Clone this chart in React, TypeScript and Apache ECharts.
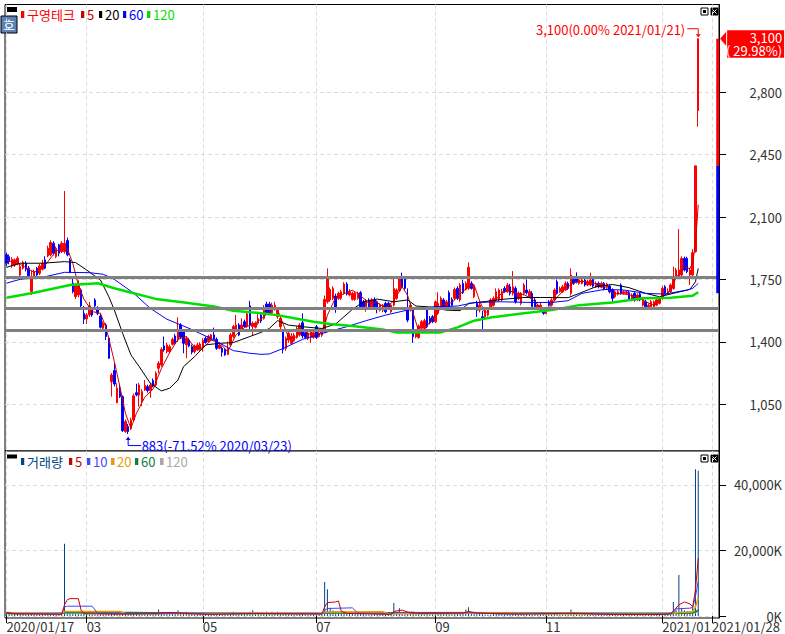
import React, { useEffect, useRef } from "react";
import * as echarts from "echarts";

const stockName = "구영테크";
const volumeName = "거래량";

const days: [string, number[]][] = [
  ["2020/01", [17,20,21,22,23,28,29,30,31]],
  ["2020/02", [3,4,5,6,7,10,11,12,13,14,17,18,19,20,21,24,25,26,27,28]],
  ["2020/03", [2,3,4,5,6,9,10,11,12,13,16,17,18,19,20,23,24,25,26,27,30,31]],
  ["2020/04", [1,2,3,6,7,8,9,10,13,14,16,17,20,21,22,23,24,27,28,29]],
  ["2020/05", [4,6,7,8,11,12,13,14,15,18,19,20,21,22,25,26,27,28,29]],
  ["2020/06", [1,2,3,4,5,8,9,10,11,12,15,16,17,18,19,22,23,24,25,26,29,30]],
  ["2020/07", [1,2,3,6,7,8,9,10,13,14,15,16,17,20,21,22,23,24,27,28,29,30,31]],
  ["2020/08", [3,4,5,6,7,10,11,12,13,14,18,19,20,21,24,25,26,27,28,31]],
  ["2020/09", [1,2,3,4,7,8,9,10,11,14,15,16,17,18,21,22,23,24,25,28,29]],
  ["2020/10", [5,6,7,8,12,13,14,15,16,19,20,21,22,23,26,27,28,29,30]],
  ["2020/11", [2,3,4,5,6,9,10,11,12,13,16,17,18,19,20,23,24,25,26,27,30]],
  ["2020/12", [1,2,3,4,7,8,9,10,11,14,15,16,17,18,21,22,23,24,28,29,30]],
  ["2021/01", [4,5,6,7,8,11,12,13,14,15,18,19,20,21,22,25,26,27,28,29]],
  ["2021/02", [1]],
];
const categories = days.flatMap(([m, ds]) => ds.map((d) => `${m}/${String(d).padStart(2, "0")}`));

const dateLabels: Record<string, string> = {
  "2020/01/17": "2020/01/17",
  "2020/03/02": "03",
  "2020/05/04": "05",
  "2020/07/01": "07",
  "2020/09/01": "09",
  "2020/11/02": "11",
  "2021/01/04": "2021/01",
  "2021/01/28": "2021/01/28",
};

const priceTicks = [1050, 1400, 1750, 2100, 2450, 2800];
const volumeTicks = [0, 20000, 40000];
const levelLines = [1762, 1588, 1465];

// [open, close, low, high]
const candlesJanMar = [
  [1888,1841,1825,1900],[1878,1850,1835,1890],[1826,1863,1815,1875],[1830,1860,1820,1868],[1841,1869,1830,1880],
  [1775,1822,1765,1840],[1813,1845,1805,1855],[1841,1807,1795,1852],[1813,1770,1760,1825],[1682,1757,1663,1800],
  [1770,1794,1765,1805],[1813,1775,1770,1820],[1785,1826,1775,1838],[1807,1841,1800,1860],[1860,1813,1808,1880],
  [1882,1925,1875,1940],[1888,1957,1880,1970],[1953,1897,1885,1965],[1878,1925,1870,1935],[1944,1897,1880,1950],
  [1906,1953,1898,1965],[1906,1953,1895,2246],[1968,1888,1880,1985],[1860,1790,1785,1870],[1729,1682,1672,1760],
  [1654,1719,1640,1730],[1663,1720,1650,1745],[1691,1602,1595,1700],[1560,1527,1500,1602],[1529,1551,1500,1560],
  [1551,1602,1540,1625],[1583,1551,1540,1595],[1635,1602,1590,1645],[1579,1560,1550,1600],[1545,1482,1475,1560],
  [1476,1504,1465,1515],[1495,1430,1410,1505],[1420,1308,1305,1430],[1177,1214,1093,1225],[1239,1164,1150,1280],
  [1059,1140,1055,1168],[1140,1093,1085,1160],[1093,902,895,1100],[897,953,890,965],[925,897,883,940],
  [915,962,905,975],[962,1097,955,1110],[1115,1102,1095,1165],[1102,1158,1037,1170],[1065,1121,1040,1135],
];
const candlesAprJun = [
  [1130,1155,1125,1186],[1149,1127,1115,1160],[1127,1158,1087,1170],[1183,1153,1145,1195],[1158,1224,1150,1235],
  [1252,1280,1224,1292],[1270,1358,1260,1370],[1377,1355,1345,1430],[1345,1383,1335,1395],[1345,1373,1335,1385],
  [1386,1414,1380,1425],[1433,1392,1385,1445],[1411,1457,1400,1538],[1495,1426,1415,1505],[1457,1392,1336,1465],
  [1383,1420,1308,1432],[1411,1377,1370,1420],[1373,1342,1330,1385],[1345,1377,1335,1385],[1355,1383,1350,1395],
  [1358,1388,1350,1398],[1370,1407,1345,1420],[1420,1396,1390,1430],[1401,1430,1395,1440],[1411,1439,1405,1445],
  [1439,1415,1410,1480],[1415,1364,1355,1425],[1364,1383,1358,1395],[1364,1342,1317,1375],[1355,1327,1322,1365],
  [1330,1364,1325,1401],[1383,1439,1375,1450],[1430,1486,1420,1495],[1467,1495,1460,1551],[1495,1439,1432,1505],
  [1471,1495,1465,1532],[1513,1486,1480,1525],[1489,1557,1480,1570],[1602,1495,1470,1630],[1486,1504,1433,1515],
  [1482,1504,1475,1515],[1504,1532,1495,1560],
];
const candlesJunAug = [
  [1550,1517,1505,1565],[1532,1578,1525,1606],[1612,1563,1555,1625],[1612,1563,1550,1625],[1563,1606,1555,1620],
  [1582,1606,1575,1625],[1541,1578,1530,1590],[1485,1532,1466,1541],[1457,1358,1335,1466],[1363,1419,1350,1430],
  [1410,1448,1395,1460],[1391,1432,1385,1448],[1406,1438,1400,1450],[1425,1475,1418,1488],[1438,1494,1430,1505],
  [1507,1433,1420,1560],[1451,1425,1415,1460],[1419,1448,1410,1458],[1425,1457,1395,1465],[1425,1451,1418,1462],
  [1485,1425,1415,1495],[1429,1448,1425,1458],[1437,1457,1428,1470],[1457,1638,1450,1660],[1625,1756,1615,1812],
  [1635,1694,1625,1705],[1644,1700,1635,1712],[1657,1593,1563,1670],[1644,1672,1635,1682],[1644,1681,1635,1692],
  [1672,1724,1665,1735],[1724,1668,1660,1735],[1663,1681,1655,1695],[1638,1672,1632,1682],[1638,1672,1630,1680],
  [1644,1672,1636,1682],[1676,1597,1590,1685],[1625,1597,1585,1635],[1597,1631,1569,1640],[1635,1597,1588,1645],
  [1588,1635,1580,1645],[1635,1597,1590,1650],[1625,1593,1560,1632],[1578,1606,1570,1615],[1578,1606,1566,1612],
  [1616,1569,1560,1625],[1616,1588,1580,1625],[1569,1606,1562,1615],[1606,1700,1598,1756],[1644,1691,1636,1700],
  [1687,1756,1680,1762],[1756,1709,1700,1788],[1756,1700,1692,1765],
];
const candlesAugOct = [
  [1588,1522,1510,1700],[1578,1606,1570,1618],[1578,1429,1395,1590],[1429,1448,1420,1458],[1425,1489,1418,1498],
  [1476,1513,1465,1522],[1476,1519,1468,1530],[1578,1485,1478,1590],[1532,1507,1498,1545],[1541,1513,1505,1550],
  [1513,1625,1505,1631],[1560,1616,1550,1678],[1597,1644,1590,1655],[1635,1597,1588,1645],[1597,1625,1590,1635],
  [1676,1593,1580,1688],[1638,1606,1598,1650],[1644,1694,1635,1705],[1700,1644,1635,1712],[1635,1719,1625,1730],
  [1728,1676,1668,1748],[1694,1728,1688,1740],[1700,1818,1692,1846],[1728,1700,1693,1740],[1653,1709,1645,1725],
  [1616,1578,1540,1630],[1578,1606,1565,1618],[1541,1526,1470,1575],[1541,1578,1530,1590],[1550,1578,1542,1590],
  [1597,1635,1590,1645],[1606,1644,1598,1655],[1635,1681,1628,1700],[1635,1691,1625,1700],[1635,1681,1628,1698],
  [1700,1681,1675,1712],[1681,1719,1675,1730],[1709,1672,1660,1725],[1672,1709,1660,1797],[1700,1625,1615,1712],
  [1644,1672,1635,1682],[1616,1672,1605,1680],[1672,1719,1660,1730],[1691,1676,1665,1750],[1653,1681,1645,1695],
];
const candlesOctJan = [
  [1672,1597,1585,1685],[1635,1597,1585,1648],[1588,1606,1580,1615],[1578,1606,1570,1618],[1578,1560,1552,1590],
  [1560,1578,1555,1590],[1625,1606,1598,1635],[1606,1635,1598,1645],[1635,1691,1628,1700],[1737,1672,1665,1750],
  [1681,1700,1675,1710],[1681,1709,1675,1720],[1691,1728,1685,1740],[1728,1700,1692,1738],[1672,1775,1660,1812],
  [1750,1728,1720,1760],[1765,1737,1728,1790],[1728,1747,1720,1760],[1728,1747,1722,1758],[1747,1719,1710,1755],
  [1719,1737,1712,1748],[1719,1747,1712,1788],[1750,1713,1705,1760],[1709,1728,1702,1738],[1728,1709,1700,1738],
  [1706,1728,1700,1738],[1728,1694,1688,1735],[1706,1724,1698,1732],[1713,1681,1672,1722],[1691,1644,1625,1700],
  [1653,1681,1645,1690],[1668,1681,1660,1690],[1719,1672,1665,1728],[1672,1681,1665,1690],[1672,1681,1664,1690],
  [1676,1638,1630,1685],[1635,1663,1628,1672],[1672,1635,1625,1680],[1635,1663,1628,1672],[1668,1635,1628,1678],
  [1606,1644,1598,1652],[1625,1597,1590,1635],[1597,1606,1590,1615],[1597,1625,1590,1635],[1597,1625,1590,1632],
  [1606,1635,1600,1645],[1616,1644,1610,1652],[1644,1700,1636,1712],[1709,1672,1665,1718],[1672,1681,1665,1700],
  [1681,1719,1675,1728],[1700,1756,1692,1821],[1765,1803,1755,1815],[1765,1803,1755,2033],[1775,1868,1765,1880],
  [1868,1803,1795,1878],[1868,1793,1785,1878],[1775,1803,1719,1815],[1775,1900,1765,1920],[1906,2387,1900,2387],
  [2697,3100,2607,3100],
];
const candles = [...candlesJanMar, ...candlesAprJun, ...candlesJunAug, ...candlesAugOct, ...candlesOctJan];

const ma5 = [
  [0,1860],[5,1835],[10,1790],[14,1830],[18,1910],[22,1925],[24,1840],[26,1720],[28,1640],[31,1570],[34,1560],[36,1480],
  [37,1420],[39,1290],[41,1150],[43,1000],[45,915],[47,1000],[50,1090],[53,1135],[56,1250],[59,1340],[62,1415],[65,1430],
  [68,1370],[71,1365],[74,1410],[77,1395],[80,1345],[83,1440],[86,1480],[90,1505],[93,1540],[96,1585],[98,1580],[100,1500],
  [102,1425],[104,1420],[107,1465],[110,1440],[113,1440],[115,1490],[116,1550],[119,1650],[122,1670],[125,1690],[128,1660],
  [131,1615],[134,1620],[137,1590],[140,1630],[143,1710],[145,1660],[147,1560],[149,1460],[151,1470],[153,1510],[155,1550],
  [158,1610],[161,1620],[164,1670],[167,1710],[169,1720],[171,1630],[173,1560],[175,1590],[178,1660],[181,1690],[184,1675],
  [187,1665],[190,1640],[193,1590],[196,1590],[199,1650],[202,1700],[205,1730],[208,1740],[212,1730],[216,1715],[219,1670],
  [222,1670],[225,1665],[228,1650],[231,1625],[234,1605],[237,1650],[240,1690],[242,1760],[245,1820],[247,1810],[248,1845],
  [249,1950],[250,2170],
];
const ma20 = [
  [0,1818],[5,1841],[13,1841],[21,1850],[25,1845],[29,1803],[34,1747],[37,1654],[39,1579],[42,1448],[45,1327],[48,1261],
  [52,1168],[56,1125],[59,1140],[62,1186],[64,1261],[68,1317],[72,1383],[77,1392],[82,1396],[88,1430],[92,1453],[95,1475],
  [98,1519],[102,1494],[107,1485],[114,1475],[119,1500],[125,1582],[129,1625],[134,1640],[140,1625],[145,1635],[148,1601],
  [152,1597],[159,1578],[164,1575],[167,1616],[174,1628],[179,1638],[187,1649],[193,1649],[203,1648],[207,1672],[213,1709],
  [219,1722],[225,1704],[231,1672],[236,1653],[241,1672],[247,1694],[249,1737],[250,1812],
];
const ma60 = [
  [0,1729],[5,1751],[13,1762],[21,1790],[30,1788],[35,1779],[39,1751],[46,1673],[52,1588],[58,1527],[66,1476],[75,1411],
  [82,1351],[88,1336],[92,1330],[95,1332],[100,1363],[107,1414],[114,1447],[123,1485],[130,1519],[137,1550],[146,1582],
  [154,1597],[163,1601],[169,1620],[178,1625],[190,1621],[197,1621],[203,1631],[208,1672],[216,1694],[223,1691],[231,1672],
  [238,1668],[246,1691],[248,1700],[250,1728],
];
const ma120 = [
  [0,1648],[10,1676],[23,1719],[33,1729],[39,1701],[46,1673],[54,1641],[65,1620],[75,1598],[82,1575],[92,1561],[98,1550],
  [104,1532],[111,1513],[117,1500],[125,1489],[136,1470],[141,1453],[157,1453],[163,1481],[169,1519],[175,1537],[187,1560],
  [197,1578],[207,1606],[219,1621],[230,1644],[240,1648],[248,1659],[250,1678],
];

const volumes = [
  900,700,600,650,600,550,600,500,500,900,
  500,450,500,550,600,700,800,600,500,500,
  700,22000,1200,1100,800,700,600,600,700,600,
  500,500,450,450,500,450,500,600,700,600,
  600,500,800,700,700,800,900,600,600,500,
  500,450,500,500,600,2000,900,800,700,600,
  600,900,1800,1200,800,1300,700,600,500,500,
  450,450,500,500,450,500,500,450,500,450,
  500,900,1300,1000,700,600,700,800,1300,1800,
  800,700,600,600,1300,700,1300,600,1300,700,
  900,700,600,500,500,500,600,700,500,500,
  450,450,500,450,600,10400,8200,2500,1800,1500,
  1300,1200,1100,900,800,700,700,800,600,600,
  500,500,500,500,450,450,500,450,450,500,
  4000,1300,2400,1200,900,1000,700,1200,700,600,
  500,500,600,500,500,900,1200,700,600,1200,
  600,500,1200,800,900,600,2000,2700,700,600,
  700,900,600,500,500,500,600,700,600,500,
  500,500,500,1300,800,500,600,600,500,500,
  500,450,450,450,450,500,500,500,600,700,
  500,500,500,450,2000,700,600,500,450,450,
  450,600,500,450,450,450,450,450,450,500,
  450,450,500,450,450,450,450,500,450,450,
  450,450,450,450,450,500,500,700,600,500,
  800,4300,1800,12500,2500,1800,1500,1500,3000,44700,44300,
];
const volMa5 = [[0,1100],[3,650],[20,550],[21,3400],[22,5000],[23,5300],[26,5300],[27,1800],[28,700],[40,550],[54,700],[56,1000],[60,1100],[66,700],[72,500],[90,800],[100,700],[114,650],[115,2800],[116,4100],[119,4300],[120,4600],[121,1500],[123,800],[139,500],[140,1400],[143,1800],[146,900],[165,900],[167,1400],[170,900],[185,600],[203,800],[206,800],[220,450],[238,500],[240,800],[241,1500],[243,3400],[245,4300],[247,3700],[248,2800],[249,8000],[250,17700]];
const volMa10 = [[0,1000],[3,750],[20,650],[21,2800],[22,3000],[31,3000],[33,800],[55,700],[66,900],[75,550],[90,800],[114,650],[115,1700],[116,2300],[125,2500],[127,900],[139,550],[140,1000],[147,1200],[150,700],[168,1000],[180,600],[205,800],[225,500],[240,600],[241,1000],[242,2200],[247,2400],[248,2600],[249,6000],[250,10500]];
const volMa20 = [[0,1100],[4,950],[20,700],[21,1400],[41,1400],[43,750],[70,700],[90,800],[114,700],[115,1200],[136,1300],[138,700],[160,700],[170,900],[195,700],[225,550],[240,600],[241,800],[243,1100],[248,1300],[249,2800],[250,5400]];
const volMa60 = [[0,800],[20,750],[21,1000],[45,1050],[60,900],[90,800],[114,800],[115,900],[135,1000],[160,950],[190,850],[225,750],[240,750],[248,950],[249,1300],[250,1800]];
const volMa120 = [[0,900],[60,950],[114,950],[160,1050],[225,900],[248,950],[249,1100],[250,1300]];

const rangeBar = [
  [257, 3100, 2387, "#ff0000"],
  [257, 2387, 1673, "#0000ff"],
];
const highNote = [250, 3100, "3,100(0.00% 2021/01/21)"];
const lowNote = [44, 883, "883(-71.52% 2020/03/23)"];
const priceTag = [257, 3100, "3,100", "( 29.98%)"];

const priceLegend: [string, string][] = [[stockName, "#ff0000"], ["5", "#c80000"], ["20", "#000000"], ["60", "#0000ff"], ["120", "#00e000"]];
const priceLegendX = [21, 81, 99, 123, 147];
const volumeLegend: [string, string][] = [[volumeName, "#004488"], ["5", "#d00000"], ["10", "#4444ff"], ["20", "#e89a00"], ["60", "#108040"], ["120", "#a8a8a8"]];
const volumeLegendX = [21, 69, 87, 111, 135, 160];

const textFont = '"Liberation Sans Narrow", "Noto Sans CJK KR", sans-serif';
const labelColor = "#333333";
const fmt = (v: number) => v.toLocaleString("en-US");
const isLabelled = (_i: number, value: string) => dateLabels[value] !== undefined;

function legendItems(items: [string, string][], xs: number[], y: number) {
  const out: any[] = [];
  items.forEach(([name, color], i) => {
    out.push({ type: "rect", shape: { x: xs[i] + 3, y: y - 3, width: 1, height: 7 }, style: { fill: "#cccccc" } });
    out.push({ type: "rect", shape: { x: xs[i], y: y - 3, width: 3, height: 7 }, style: { fill: color } });
    out.push({ type: "text", x: xs[i] + 6, y: y + 0.5, style: { text: name, fill: color, font: `13px ${/[가-힣]/.test(name) ? '"Noto Sans CJK KR"' : textFont}`, verticalAlign: "middle" } });
  });
  return out;
}

function windowButtons(y: number) {
  return [
    { type: "rect", shape: { x: 701, y, width: 7, height: 7 }, style: { fill: "#fff", stroke: "#000", lineWidth: 1 } },
    { type: "rect", shape: { x: 703, y: y + 2, width: 3, height: 3 }, style: { fill: "#000" } },
    { type: "rect", shape: { x: 711, y, width: 7, height: 7 }, style: { fill: "#000", stroke: "#000", lineWidth: 1 } },
    { type: "line", shape: { x1: 712.5, y1: y + 1.5, x2: 716.5, y2: y + 5.5 }, style: { stroke: "#fff", lineWidth: 1 } },
    { type: "line", shape: { x1: 716.5, y1: y + 1.5, x2: 712.5, y2: y + 5.5 }, style: { stroke: "#fff", lineWidth: 1 } },
  ];
}

function renderRangeBar(_p: any, api: any) {
  const top = api.coord([api.value(0), api.value(1)]);
  const bot = api.coord([api.value(0), api.value(2)]);
  return {
    type: "rect",
    shape: { x: top[0] - 1.4, y: top[1], width: 3, height: bot[1] - top[1] },
    style: { fill: api.value(3) },
  };
}

function renderHighNote(_p: any, api: any) {
  const [x, y] = api.coord([api.value(0), api.value(1)]);
  return {
    type: "group",
    children: [
      { type: "text", x: x - 13, y: y - 9.5, style: { text: api.value(2), fill: "#ff0000", font: `13px ${textFont}`, align: "right", verticalAlign: "middle" } },
      { type: "polyline", shape: { points: [[x - 11, y - 10], [x, y - 10], [x, y - 2]] }, style: { fill: "none", stroke: "#ff0000", lineWidth: 1 } },
      { type: "polygon", shape: { points: [[x - 2.5, y - 4.5], [x + 2.5, y - 4.5], [x, y - 1.5]] }, style: { fill: "#ff0000" } },
    ],
  };
}

function renderLowNote(_p: any, api: any) {
  const [x, y] = api.coord([api.value(0), api.value(1)]);
  return {
    type: "group",
    children: [
      { type: "text", x: x + 13.5, y: y + 11, style: { text: api.value(2), fill: "#0000ff", font: `13px ${textFont}`, align: "left", verticalAlign: "middle" } },
      { type: "polyline", shape: { points: [[x, y + 3], [x, y + 11.5], [x + 13, y + 11.5]] }, style: { fill: "none", stroke: "#0000ff", lineWidth: 1 } },
      { type: "polygon", shape: { points: [[x - 2.5, y + 6], [x + 2.5, y + 6], [x, y + 3]] }, style: { fill: "#0000ff" } },
    ],
  };
}

function renderPriceTag(_p: any, api: any) {
  const [x, y] = api.coord([api.value(0), api.value(1)]);
  const rx = x + 9.5;
  return {
    type: "group",
    children: [
      { type: "polygon", shape: { points: [[x + 2.5, y], [x + 8.5, y - 7], [x + 8.5, y + 7]] }, style: { fill: "#ff0000" } },
      { type: "rect", shape: { x: rx, y: y - 8.5, width: 57, height: 27.5 }, style: { fill: "#ff0000" } },
      { type: "text", x: rx + 55, y: y - 1, style: { text: api.value(2), fill: "#fff", font: `13px ${textFont}`, align: "right", verticalAlign: "middle" } },
      { type: "text", x: rx + 55, y: y + 12, style: { text: api.value(3), fill: "#fff", font: `13px ${textFont}`, align: "right", verticalAlign: "middle" } },
    ],
  };
}

function lineSeries(name: string, data: number[][], color: string, width: number, axis: number) {
  return {
    name,
    type: "line",
    data,
    xAxisIndex: axis,
    yAxisIndex: axis,
    showSymbol: false,
    symbol: "none",
    silent: true,
    lineStyle: { color, width },
    itemStyle: { color },
  };
}

function customSeries(name: string, data: any[], renderItem: any) {
  return {
    name,
    type: "custom",
    data,
    xAxisIndex: 0,
    yAxisIndex: 0,
    clip: false,
    silent: true,
    z: 12,
    renderItem,
    encode: { x: 0, y: 1 },
  };
}

const splitLine = { show: true, alignWithLabel: true, interval: isLabelled, lineStyle: { color: "#dcdcdc", type: [4, 3], width: 1 } };
const hSplitLine = { show: true, lineStyle: { color: "#dcdcdc", type: [4, 3], width: 1 } };

export default function App() {
  const ref = useRef<HTMLDivElement>(null);
  useEffect(() => {
    const chart = echarts.init(ref.current!, null, { renderer: "svg" });
    chart.setOption({
      animation: false,
      backgroundColor: "#ffffff",
      grid: [
        { left: 5, top: 4.5, width: 715, height: 446.5, show: true, borderColor: "#000", borderWidth: 1, backgroundColor: "#fff" },
        { left: 5, top: 451, width: 715, height: 167, show: true, borderColor: "#000", borderWidth: 1, backgroundColor: "#fff" },
      ],
      xAxis: [
        {
          type: "category", gridIndex: 0, data: categories, boundaryGap: true,
          axisLine: { show: false }, axisTick: { show: false }, axisLabel: { show: false }, splitLine,
        },
        {
          type: "category", gridIndex: 1, data: categories, boundaryGap: true,
          axisLine: { show: false },
          axisTick: { show: true, alignWithLabel: true, interval: isLabelled, length: 7, lineStyle: { color: "#000" } },
          axisLabel: {
            show: true, interval: isLabelled, margin: 2, align: "left", verticalAlign: "top",
            color: labelColor, fontFamily: textFont, fontSize: 13,
            formatter: (v: string) => dateLabels[v] ?? "",
          },
          splitLine,
        },
      ],
      yAxis: [
        {
          type: "value", gridIndex: 0, position: "right", min: 788, max: 3292, scale: true,
          axisLine: { show: true, lineStyle: { color: "#000" } },
          axisTick: { show: true, length: 7, customValues: priceTicks, lineStyle: { color: "#000" } },
          axisLabel: { show: true, customValues: priceTicks, align: "right", margin: 63, color: labelColor, fontFamily: textFont, fontSize: 13, formatter: fmt },
          splitLine: hSplitLine,
        },
        {
          type: "value", gridIndex: 1, position: "right", min: -600, max: 50300,
          axisLine: { show: true, lineStyle: { color: "#000" } },
          axisTick: { show: true, length: 7, customValues: volumeTicks, lineStyle: { color: "#000" } },
          axisLabel: { show: true, customValues: volumeTicks, align: "right", margin: 63, color: labelColor, fontFamily: textFont, fontSize: 13, formatter: (v: number) => `${fmt(v)}K` },
          splitLine: hSplitLine,
        },
      ],
      series: [
        {
          name: stockName, type: "candlestick", data: candles, xAxisIndex: 0, yAxisIndex: 0, barWidth: 2, silent: true,
          itemStyle: { color: "#ff0000", color0: "#0000ff", borderColor: "#ff0000", borderColor0: "#0000ff", borderWidth: 1 },
        },
        lineSeries("5", ma5, "#c80000", 1, 0),
        lineSeries("20", ma20, "#000000", 1, 0),
        lineSeries("60", ma60, "#0000ff", 1, 0),
        lineSeries("120", ma120, "#00e000", 2.5, 0),
        {
          name: "levels", type: "line", data: [], xAxisIndex: 0, yAxisIndex: 0, silent: true, z: 8,
          markLine: {
            silent: true, symbol: "none", animation: false, z: 8, label: { show: false },
            lineStyle: { color: "#808080", width: 3, type: "solid" },
            data: levelLines.map((yAxis) => ({ yAxis })),
          },
        },
        customSeries("range", rangeBar, renderRangeBar),
        customSeries("high", [highNote], renderHighNote),
        customSeries("low", [lowNote], renderLowNote),
        customSeries("tag", [priceTag], renderPriceTag),
        { name: volumeName, type: "bar", data: volumes, xAxisIndex: 1, yAxisIndex: 1, barWidth: 1, silent: true, itemStyle: { color: "#004488" } },
        lineSeries("v120", volMa120, "#a8a8a8", 1.5, 1),
        lineSeries("v60", volMa60, "#108040", 1.5, 1),
        lineSeries("v20", volMa20, "#e89a00", 1.5, 1),
        lineSeries("v10", volMa10, "#4444ff", 1, 1),
        lineSeries("v5", volMa5, "#d00000", 1, 1),
      ],
      graphic: {
        elements: [
          { type: "rect", shape: { x: 7, y: 7, width: 10, height: 5 }, style: { fill: "#000" } },
          { type: "rect", shape: { x: 7, y: 454.5, width: 10, height: 4 }, style: { fill: "#000" } },
          { type: "rect", shape: { x: 1, y: 16, width: 16, height: 17 }, style: { fill: "#5b82b4", stroke: "#000", lineWidth: 1 } },
          { type: "text", x: 9, y: 24.5, style: { text: "호", fill: "#fff", font: '13px "Noto Sans CJK KR"', align: "center", verticalAlign: "middle" } },
          ...legendItems(priceLegend, priceLegendX, 14),
          ...legendItems(volumeLegend, volumeLegendX, 461),
          ...windowButtons(8),
          ...windowButtons(455),
        ],
      },
    });
    return () => chart.dispose();
  }, []);
  return <div ref={ref} style={{ position: "fixed", left: 0, top: 0, width: 785, height: 634 }} />;
}
